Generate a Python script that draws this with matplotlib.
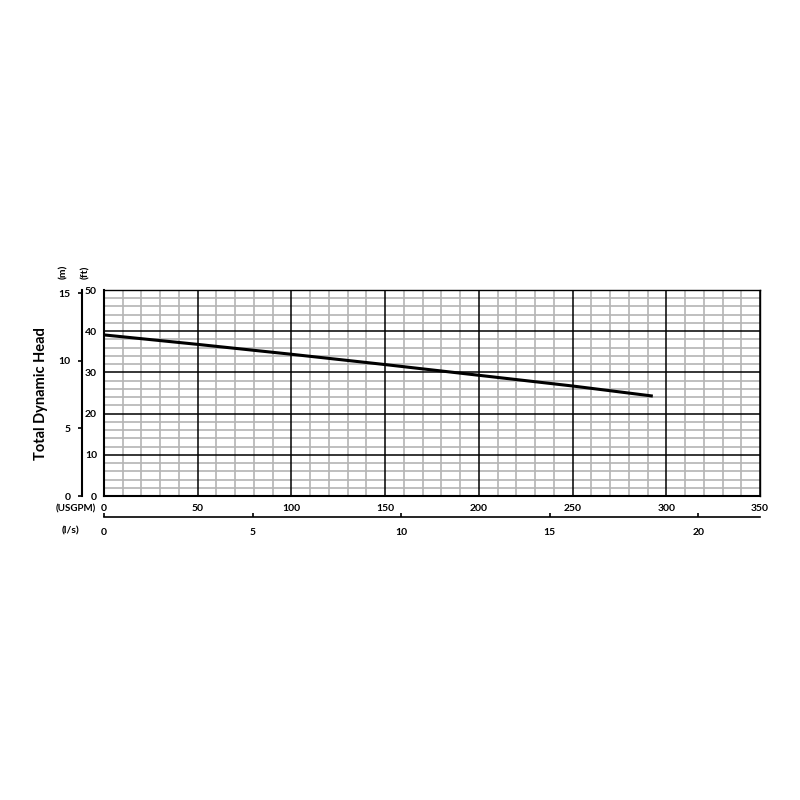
import matplotlib
matplotlib.use("Agg")
import matplotlib.pyplot as plt
from matplotlib.ticker import MultipleLocator

plt.rcParams['font.family'] = ['Lato', 'DejaVu Sans']
plt.rcParams['font.weight'] = 'bold'

# pump curve (USGPM vs ft)
flow_usgpm = [0, 50, 100, 150, 200, 250, 292]
head_ft = [39.1, 36.8, 34.4, 31.9, 29.3, 26.7, 24.3]

ft_ticks = [0, 10, 20, 30, 40, 50]
m_ticks = [0, 5, 10, 15]
gpm_ticks = [0, 50, 100, 150, 200, 250, 300, 350]
ls_ticks = [0, 5, 10, 15, 20]

FT_TO_M = 0.3048
GPM_TO_LS = 0.0630902

fig = plt.figure(figsize=(8, 8), dpi=100)
ax = fig.add_axes([0.13, 0.38, 0.82, 0.2575])

ax.set_xlim(0, 350)
ax.set_ylim(0, 50)

# grid: gray minor underneath, black major lines on top of it
ax.xaxis.set_minor_locator(MultipleLocator(10))
ax.yaxis.set_minor_locator(MultipleLocator(2))
ax.set_xticks(gpm_ticks)
ax.set_yticks(ft_ticks)
ax.grid(which='minor', color='#b4b4b4', linewidth=1.2)
ax.set_axisbelow(True)
for v in gpm_ticks:
    ax.axvline(v, color='black', linewidth=1.1, zorder=1.5)
for h in ft_ticks:
    ax.axhline(h, color='black', linewidth=1.1, zorder=1.5)

ax.plot(flow_usgpm, head_ft, color='black', linewidth=2.2, zorder=5)

for s in ax.spines.values():
    s.set_color('black')
    s.set_linewidth(1.0)
ax.spines['left'].set_linewidth(1.5)
ax.spines['bottom'].set_linewidth(1.5)

ax.tick_params(axis='both', which='both', length=0, labelsize=7.5)
ax.tick_params(axis='y', pad=5)
ax.tick_params(axis='x', pad=6)

# metres axis on the left
sec_y = ax.secondary_yaxis(-22 / 656, functions=(lambda v: v * FT_TO_M, lambda v: v / FT_TO_M))
sec_y.set_yticks(m_ticks)
sec_y.tick_params(length=3, width=1.2, labelsize=7.5, pad=5)
sec_y.spines['left'].set_linewidth(1.5)

# l/s axis below
sec_x = ax.secondary_xaxis(-21 / 206, functions=(lambda v: v * GPM_TO_LS, lambda v: v / GPM_TO_LS))
sec_x.set_xticks(ls_ticks)
sec_x.tick_params(direction='in', length=3, width=1.2, labelsize=7.5, pad=8)
sec_x.spines['bottom'].set_linewidth(1.2)

fig.text(64 / 800, 1 - 272 / 800, '(m)', rotation=90, fontsize=7.5, fontweight='bold', ha='center', va='center')
fig.text(86 / 800, 1 - 272 / 800, '(ft)', rotation=90, fontsize=7.5, fontweight='bold', ha='center', va='center')
fig.text(96 / 800, 1 - 509 / 800, '(USGPM)', fontsize=7, fontweight='bold', ha='right', va='center')
fig.text(70 / 800, 1 - 531 / 800, '(l/s)', fontsize=7.5, fontweight='bold', ha='center', va='center')
fig.text(41 / 800, 1 - 394 / 800, 'Total Dynamic Head', rotation=90, fontsize=10.5, fontweight='bold',
         ha='center', va='center')

fig.savefig('out.png', dpi=100, facecolor='white')
